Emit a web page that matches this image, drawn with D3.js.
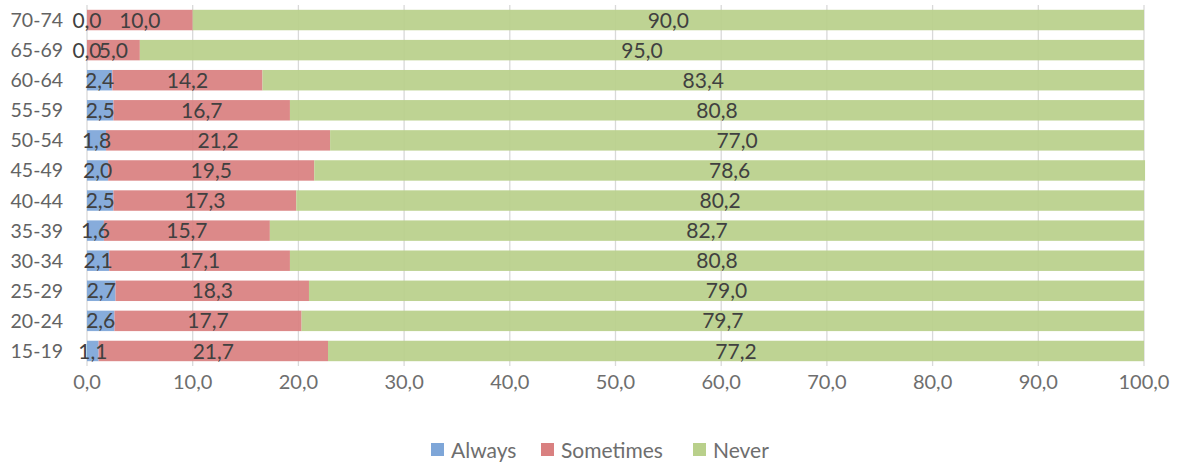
<!DOCTYPE html>
<html><head><meta charset="utf-8">
<script src="https://cdn.jsdelivr.net/npm/d3@7"></script>
<style>body{margin:0;background:#fff;} text{font-family:Lato,"Open Sans",sans-serif;}</style>
</head><body>
<svg id="c" width="1179" height="463"></svg>
<script>
const categories = ["70-74","65-69","60-64","55-59","50-54","45-49","40-44","35-39","30-34","25-29","20-24","15-19"];
const always =    [0.0, 0.0, 2.4, 2.5, 1.8, 2.0, 2.5, 1.6, 2.1, 2.7, 2.6, 1.1];
const sometimes = [10.0, 5.0, 14.2, 16.7, 21.2, 19.5, 17.3, 15.7, 17.1, 18.3, 17.7, 21.7];
const never =     [90.0, 95.0, 83.4, 80.8, 77.0, 78.6, 80.2, 82.7, 80.8, 79.0, 79.7, 77.2];
const seriesNames = ["Always","Sometimes","Never"];
const colors = ["#7ea6d8","#d98080","#b9d08b"];
const ticks = [0,10,20,30,40,50,60,70,80,90,100];

const svg = d3.select("#c");
const x = d3.scaleLinear().domain([0,100]).range([87,1144]);
const y = d3.scaleBand().domain(categories).range([5,366]).paddingInner(0.32).paddingOuter(0.16);
const fmt = v => v.toFixed(1).replace(".", ",");

// grid
svg.append("g").selectAll("line").data(ticks).join("line")
  .attr("x1", d=>x(d)).attr("x2", d=>x(d)).attr("y1", 5).attr("y2", 366)
  .attr("stroke", "#d9d9d9").attr("stroke-width", 1.3);

const data = categories.map((c,i)=>({cat:c, Always:always[i], Sometimes:sometimes[i], Never:never[i]}));
const stacked = d3.stack().keys(seriesNames)(data);

svg.append("g").selectAll("g").data(stacked).join("g")
  .attr("fill", (d,i)=>colors[i]).attr("fill-opacity", 0.93)
  .selectAll("rect").data(d=>d).join("rect")
  .attr("x", d=>x(d[0])).attr("width", d=>x(d[1])-x(d[0]))
  .attr("y", d=>y(d.data.cat)).attr("height", y.bandwidth());

// labels
svg.append("g").selectAll("g").data(stacked).join("g")
  .selectAll("text").data(d=>d.map(v=>({v, key:d.key}))).join("text")
  .attr("x", d=>(x(d.v[0])+x(d.v[1]))/2)
  .attr("y", d=>y(d.v.data.cat)+y.bandwidth()/2)
  .attr("dy","0.36em").attr("text-anchor","middle")
  .attr("fill","#404040").attr("font-size",21)
  .text(d=>fmt(d.v.data[d.key]));

// category axis labels
svg.append("g").selectAll("text").data(categories).join("text")
  .attr("x", 63).attr("y", d=>y(d)+y.bandwidth()/2).attr("dy","0.36em")
  .attr("text-anchor","end").attr("fill","#636363").attr("font-size",19.5)
  .text(d=>d);

// x tick labels
svg.append("g").selectAll("text").data(ticks).join("text")
  .attr("x", d=>x(d)).attr("y", 382).attr("dy","0.36em")
  .attr("text-anchor","middle").attr("fill","#6e6e6e").attr("font-size",20)
  .text(d=>fmt(d));

// legend
const legX = [431, 541, 693];
const lg = svg.append("g").selectAll("g").data(seriesNames).join("g")
  .attr("transform",(d,i)=>`translate(${legX[i]},450)`);
lg.append("rect").attr("x",0).attr("y",-7).attr("width",13).attr("height",13).attr("fill",(d,i)=>colors[i]);
lg.append("text").attr("x",20).attr("y",0).attr("dy","0.36em").attr("fill","#6e6e6e").attr("font-size",21).text(d=>d);
</script>
</body></html>
